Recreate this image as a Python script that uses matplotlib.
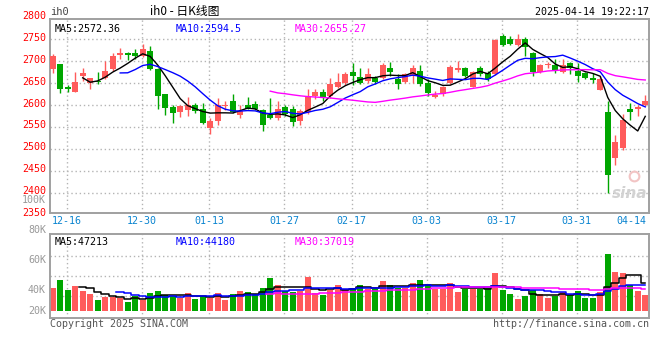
import numpy as np
import pandas as pd
import matplotlib
matplotlib.use('Agg')
import matplotlib.pyplot as plt
from matplotlib import transforms

# daily K data, 80 trading days 2024-12-12 .. 2025-04-14
opens = [2682, 2693, 2640, 2630, 2665, 2650, 2655, 2661, 2681, 2714,
         2718, 2718, 2711, 2723, 2681, 2625, 2595, 2584, 2589, 2601,
         2591, 2547, 2563, 2598, 2610, 2578, 2601, 2603, 2588, 2577,
         2570, 2596, 2592, 2564, 2583, 2620, 2630, 2620, 2642, 2651,
         2675, 2664, 2655, 2662, 2662, 2685, 2658, 2652, 2666, 2677,
         2651, 2618, 2624, 2651, 2680, 2683, 2642, 2683, 2673, 2671,
         2756, 2750, 2736, 2750, 2718, 2674, 2690, 2692, 2674, 2695,
         2677, 2672, 2662, 2634, 2583, 2480, 2502, 2592, 2592, 2601]
closes = [2711, 2637, 2636, 2653, 2672, 2661, 2652, 2678, 2711, 2718,
          2714, 2711, 2728, 2681, 2620, 2593, 2581, 2598, 2601, 2586,
          2560, 2563, 2601, 2601, 2584, 2587, 2592, 2591, 2554, 2570,
          2592, 2580, 2561, 2586, 2620, 2630, 2619, 2647, 2652, 2671,
          2667, 2651, 2670, 2652, 2692, 2674, 2647, 2670, 2685, 2647,
          2628, 2623, 2640, 2687, 2683, 2666, 2676, 2670, 2660, 2748,
          2737, 2739, 2751, 2731, 2674, 2690, 2694, 2677, 2692, 2683,
          2666, 2661, 2657, 2660, 2442, 2517, 2567, 2584, 2595, 2608]
highs = [2715, 2693, 2646, 2676, 2683, 2662, 2675, 2699, 2719, 2730,
         2721, 2727, 2739, 2734, 2684, 2626, 2601, 2601, 2619, 2604,
         2604, 2571, 2616, 2609, 2624, 2601, 2618, 2609, 2590, 2617,
         2609, 2601, 2598, 2592, 2637, 2637, 2636, 2662, 2672, 2674,
         2695, 2685, 2683, 2666, 2696, 2697, 2670, 2672, 2692, 2692,
         2658, 2632, 2643, 2690, 2700, 2687, 2677, 2689, 2677, 2750,
         2761, 2756, 2761, 2754, 2721, 2693, 2698, 2704, 2704, 2698,
         2695, 2675, 2673, 2666, 2608, 2532, 2579, 2605, 2601, 2622]
lows = [2672, 2628, 2630, 2630, 2655, 2637, 2648, 2658, 2678, 2704,
        2702, 2704, 2708, 2679, 2591, 2578, 2559, 2572, 2576, 2582,
        2557, 2534, 2555, 2589, 2582, 2570, 2590, 2589, 2542, 2568,
        2567, 2576, 2553, 2555, 2579, 2613, 2609, 2617, 2639, 2645,
        2645, 2647, 2651, 2648, 2660, 2667, 2637, 2649, 2649, 2643,
        2620, 2617, 2621, 2648, 2675, 2664, 2641, 2666, 2655, 2668,
        2735, 2736, 2735, 2712, 2665, 2672, 2685, 2673, 2672, 2670,
        2652, 2658, 2651, 2634, 2400, 2463, 2498, 2567, 2575, 2598]
volumes = [39.6, 52.6, 35.7, 42.5, 34.0, 28.9, 18.7, 24.3, 24.3, 21.5,
           15.3, 25.5, 18.7, 30.6, 34.0, 27.2, 25.5, 21.5, 30.6, 20.4,
           25.5, 22.1, 30.6, 18.7, 28.9, 34.0, 32.3, 28.9, 39.1, 56.0,
           44.1, 34.0, 32.3, 34.0, 57.7, 30.6, 27.2, 35.7, 44.1, 37.4,
           39.1, 44.1, 37.4, 37.4, 50.9, 44.1, 39.1, 39.1, 47.5, 52.6,
           45.8, 37.4, 37.4, 47.5, 32.3, 37.4, 37.4, 37.4, 39.1, 64.5,
           35.7, 28.9, 20.4, 25.5, 35.7, 28.9, 22.1, 25.5, 32.3, 27.2,
           34.0, 22.1, 22.1, 32.3, 96.8, 66.2, 64.5, 44.1, 34.0, 27.2]  # thousands

tick_pos = [2, 12, 21, 31, 40, 50, 60, 70, 79]
tick_lab = ['12-16', '12-30', '01-13', '01-27', '02-17', '03-03', '03-17', '03-31', '04-14']
price_ticks = [2800, 2750, 2700, 2650, 2600, 2550, 2500, 2450, 2400, 2350]
price_grid = [2750, 2700, 2650, 2600, 2550, 2500, 2450, 2400]
vol_labels = ['100K', '80K', '60K', '40K', '20K']
vol_label_y = [200, 230, 260, 290, 311]  # pixel rows where sina prints them

RED = '#ff5b5b'
GREEN = '#00a600'
GRID = '#b4b4b4'
FRAME = '#a0a0a0'
MONO = 'DejaVu Sans Mono'

df = pd.DataFrame({'o': opens, 'c': closes, 'h': highs, 'l': lows, 'v': volumes})
x = np.arange(len(df))
up = df.c >= df.o
colors = np.where(up, RED, GREEN)

W, H = 660, 360
fig = plt.figure(figsize=(W / 100, H / 100), dpi=100)
fig.patch.set_facecolor('white')


def px_axes(l, t, r, b):
    return fig.add_axes([l / W, 1 - b / H, (r - l) / W, (b - t) / H])


ax = px_axes(50, 19, 649, 213)
axv = px_axes(50, 234, 649, 318)

for a in (ax, axv):
    a.set_xlim(-0.36, 79.5)
    a.set_xticks([])
    a.set_yticks([])
    for s in a.spines.values():
        s.set_color(FRAME)
        s.set_linewidth(1.4)
    for p in tick_pos[:-1]:
        a.axvline(p - 0.15, color=GRID, lw=1, ls=(0, (1, 2)), zorder=0)

# ---- price panel
ax.set_ylim(2354.5, 2795.5)
for g in price_grid:
    ax.axhline(g, color=GRID, lw=1, ls=(0, (1, 2)), zorder=0)

ax.vlines(x, df.l, df.h, colors=colors, lw=1, zorder=2)
body_lo = np.minimum(df.o, df.c)
body_h = np.maximum(np.abs(df.c - df.o), 1.2)
ax.bar(x, body_h, bottom=body_lo, width=0.75, color=colors, lw=0, zorder=3)

for n, col in ((5, 'black'), (10, '#0000ff'), (30, '#ff00ff')):
    ax.plot(x, df.c.rolling(n).mean(), color=col, lw=1, zorder=4)

ytr = transforms.offset_copy(
    transforms.blended_transform_factory(ax.transAxes, ax.transData),
    fig=fig, y=1.5, units='dots')
for t in price_ticks:
    ax.text(-0.007, t, str(t), transform=ytr, ha='right', va='center',
            color='#ff0000', fontsize=7.2, family=MONO, clip_on=False)

ax.text(0.007, 0.975, 'MA5:2572.36', transform=ax.transAxes, ha='left', va='top',
        color='black', fontsize=7.2, family=MONO)
ax.text(0.209, 0.975, 'MA10:2594.5', transform=ax.transAxes, ha='left', va='top',
        color='#0000ff', fontsize=7.2, family=MONO)
ax.text(0.409, 0.975, 'MA30:2655.27', transform=ax.transAxes, ha='left', va='top',
        color='#ff00ff', fontsize=7.2, family=MONO)

# sina watermark
ax.text(0.998, 0.1, 'sina', transform=ax.transAxes, ha='right', va='center',
        color='#d2d2d2', fontsize=11, fontweight='bold', style='italic', zorder=1)
ax.plot([0.975], [0.19], 'o', transform=ax.transAxes, ms=7, mfc='none',
        mec='#f2c4c4', mew=1.5, zorder=1)

# date labels
dtr = transforms.blended_transform_factory(ax.transData, fig.transFigure)
for p, lab in zip(tick_pos, tick_lab):
    ha = 'right' if p == tick_pos[-1] else 'center'
    ax.text(p + (0.2 if ha == 'right' else -0.15), 1 - 221 / H, lab, transform=dtr,
            ha=ha, va='center', color='#0a84d0', fontsize=7.2, family=MONO, clip_on=False)

# ---- volume panel
axv.set_ylim(-11.9, 130.7)
for g in (26.0, 59.9, 93.9):
    axv.axhline(g, color=GRID, lw=1, ls=(0, (1, 2)), zorder=0)
axv.bar(x, df.v, width=0.75, color=colors, lw=0, zorder=2)
for n, col in ((5, 'black'), (10, '#0000ff'), (30, '#ff00ff')):
    axv.plot(x, df.v.rolling(n).mean(), color=col, lw=1.1, drawstyle='steps-mid', zorder=3)

for lab, yy in zip(vol_labels, vol_label_y):
    fig.text(46 / W, 1 - yy / H, lab, ha='right', va='center', color='#999999',
             fontsize=7.2, family=MONO)

axv.text(0.007, 0.96, 'MA5:47213', transform=axv.transAxes, ha='left', va='top',
         color='black', fontsize=7.2, family=MONO)
axv.text(0.209, 0.96, 'MA10:44180', transform=axv.transAxes, ha='left', va='top',
         color='#0000ff', fontsize=7.2, family=MONO)
axv.text(0.409, 0.96, 'MA30:37019', transform=axv.transAxes, ha='left', va='top',
         color='#ff00ff', fontsize=7.2, family=MONO)

# ---- header / footer
fig.text(50 / W, 1 - 12 / H, 'ih0', ha='left', va='center', color='#444444',
         fontsize=7.5, family=MONO)
fig.text(185 / W, 1 - 12 / H, 'ih0 - 日K线图', ha='center', va='center', color='black',
         fontsize=8.5, family=['Noto Sans CJK SC', 'DejaVu Sans'])
fig.text(649 / W, 1 - 12 / H, '2025-04-14 19:22:17', ha='right', va='center',
         color='black', fontsize=7.2, family=MONO)
fig.text(50 / W, 1 - 324 / H, 'Copyright 2025 SINA.COM', ha='left', va='center',
         color='#555555', fontsize=7.2, family=MONO)
fig.text(649 / W, 1 - 324 / H, 'http://finance.sina.com.cn', ha='right', va='center',
         color='#555555', fontsize=7.2, family=MONO)

fig.savefig('out.png', dpi=100)
